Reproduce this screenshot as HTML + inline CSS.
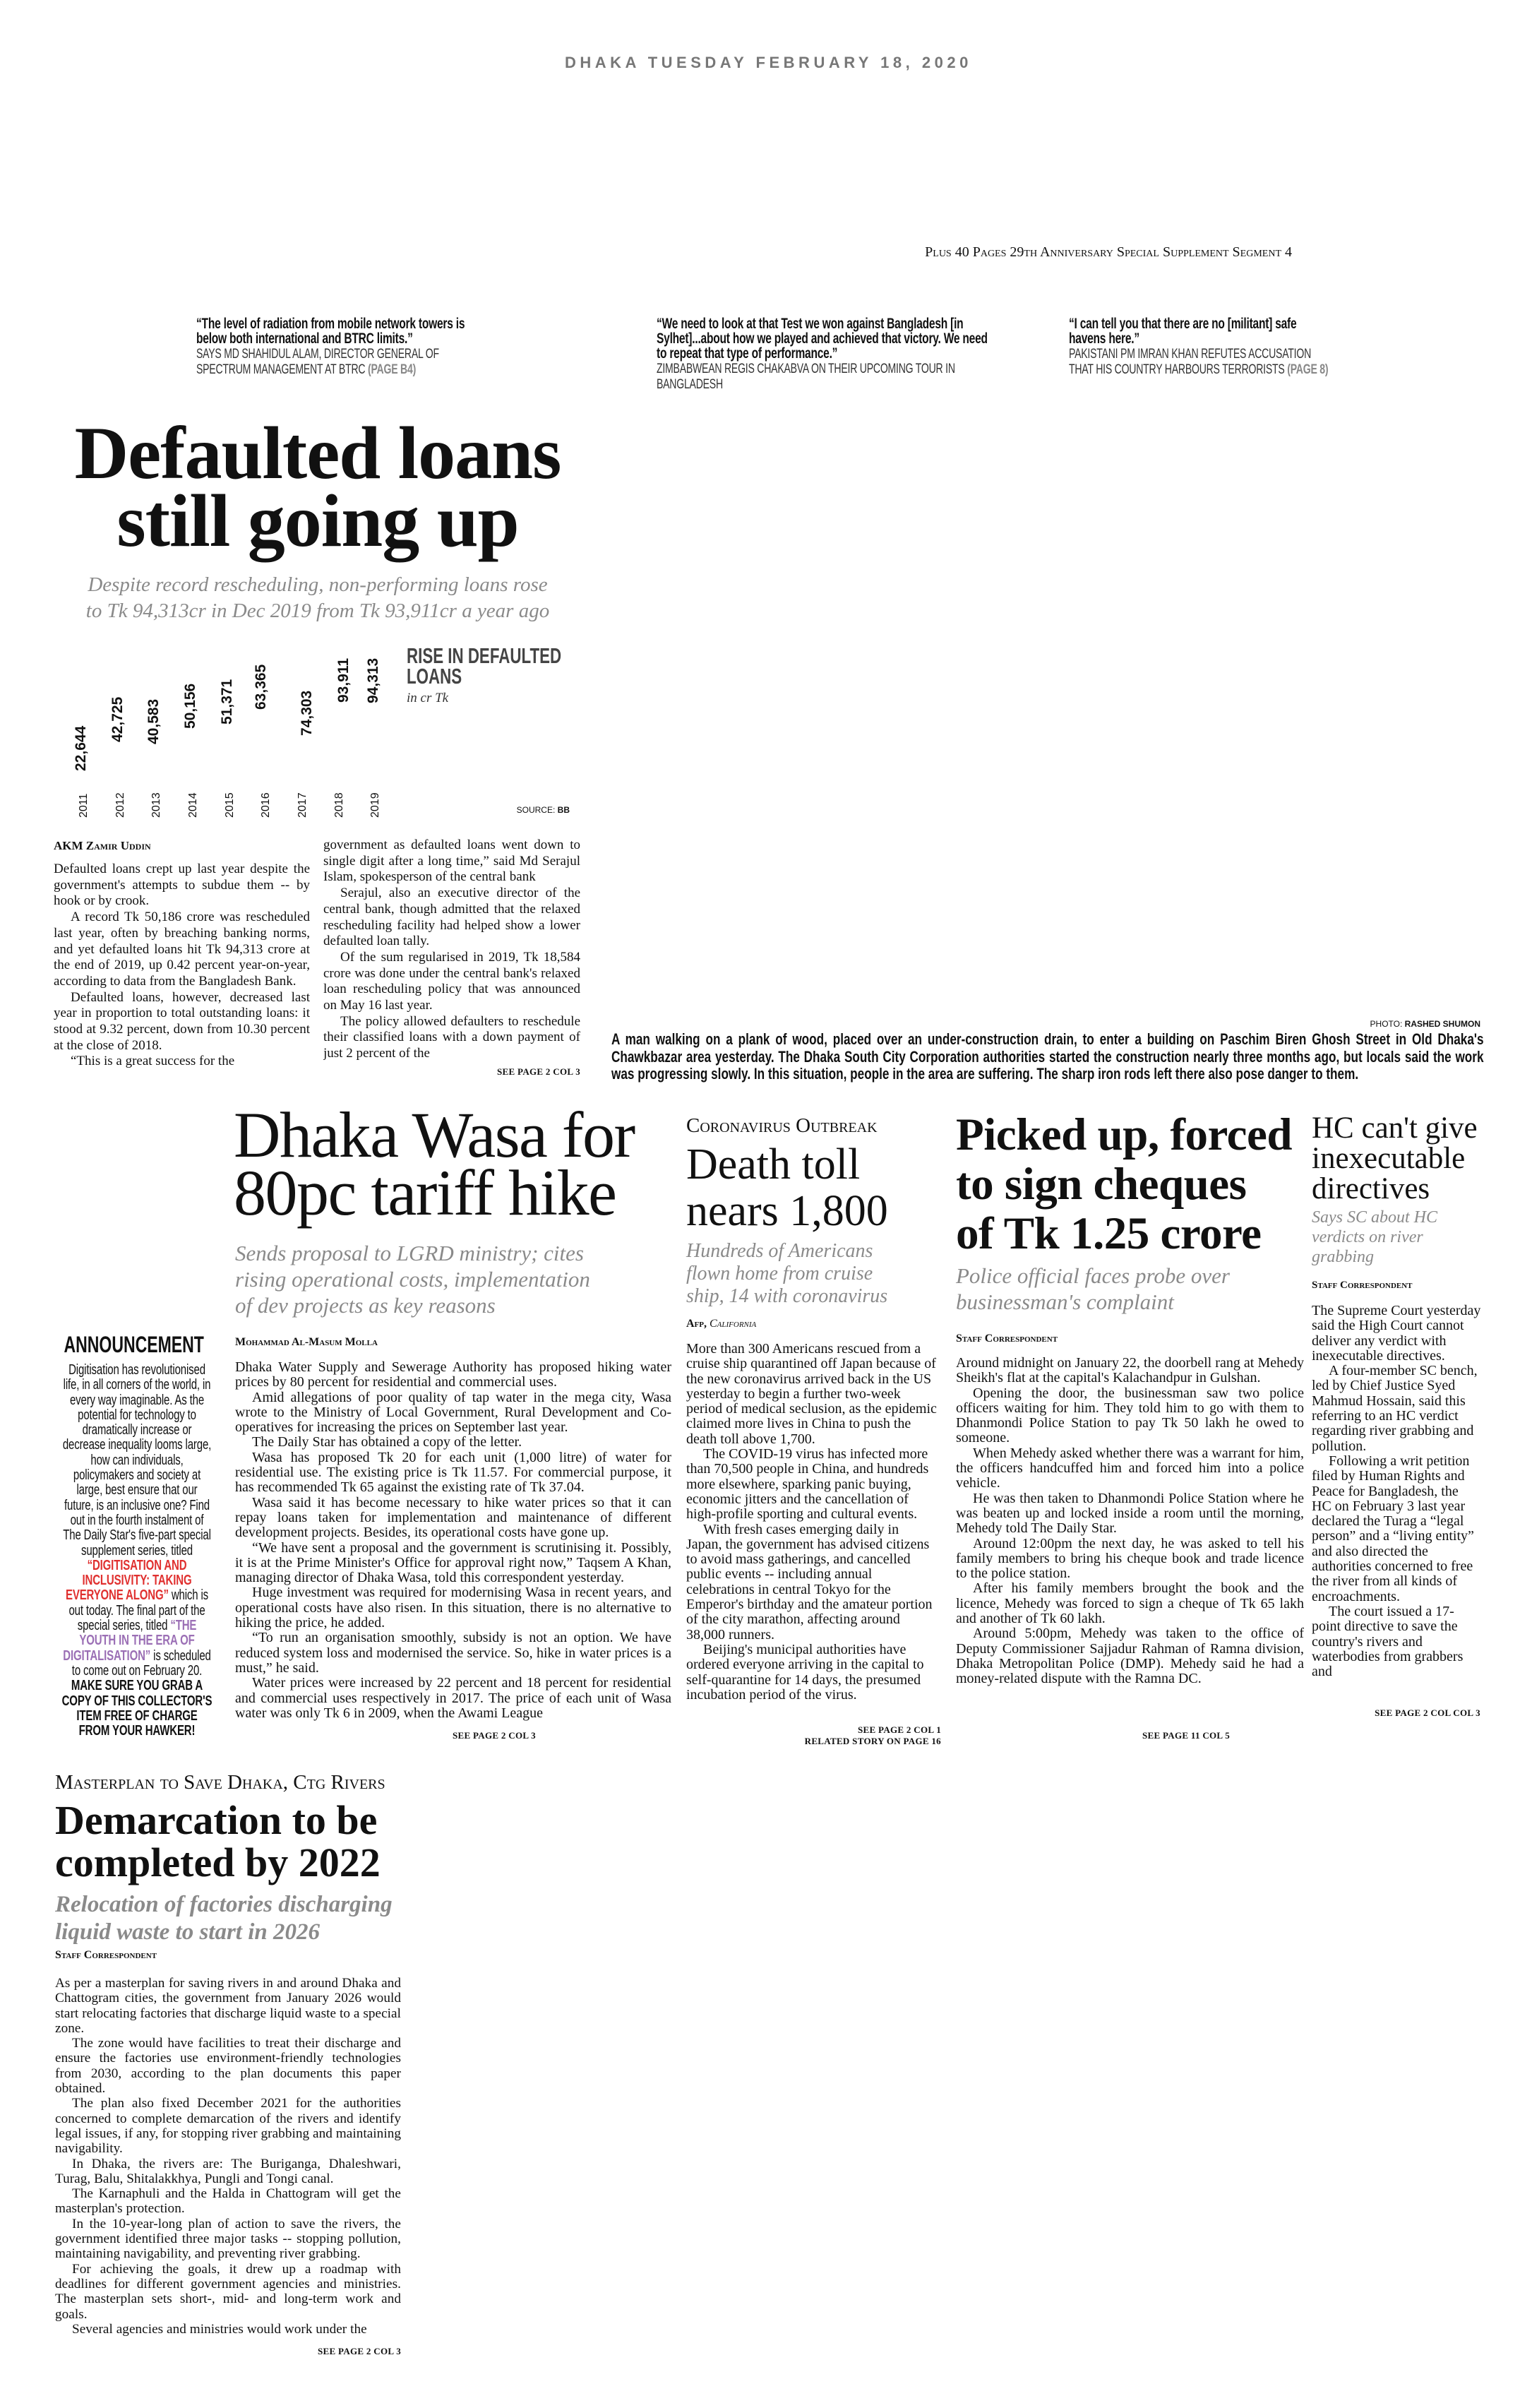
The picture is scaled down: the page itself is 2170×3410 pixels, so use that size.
<!DOCTYPE html>
<html><head><meta charset="utf-8">
<style>
*{margin:0;padding:0;box-sizing:border-box}
html,body{width:2170px;height:3410px;background:#fff;overflow:hidden}
body{position:relative;font-family:"Liberation Serif",serif;color:#111}
.a{position:absolute}
.s{transform-origin:0 0}
.n{font-family:"Liberation Sans",sans-serif}
.body{font-family:"Liberation Serif",serif;font-size:20px;line-height:21.3px;text-align:justify}
.body p{text-indent:24px}
.body p.f{text-indent:0}
.sc{font-variant:small-caps}
.sub{font-style:italic;color:#8a8a8a;white-space:nowrap}
.v{position:absolute;font-family:"Liberation Sans",sans-serif;font-weight:bold;font-size:21px;line-height:22px;white-space:nowrap;transform-origin:0 0;transform:rotate(-90deg)}
.y{position:absolute;font-family:"Liberation Sans",sans-serif;font-size:16px;line-height:18px;white-space:nowrap;transform-origin:0 0;transform:rotate(-90deg)}
.q{font-size:21px;line-height:21px;letter-spacing:-0.3px}
.q b{font-weight:bold}
.q span{color:#333;font-size:19px}
.see{font-size:13px;font-weight:bold;letter-spacing:0.3px}
</style></head><body>

<div class="a" style="left:800px;top:76px;width:573px;font-family:'Liberation Sans',sans-serif;font-weight:bold;font-size:22px;letter-spacing:5.5px;color:#777;white-space:nowrap">DHAKA TUESDAY FEBRUARY 18, 2020</div>
<div class="a sc" style="left:1300px;top:346px;width:530px;font-size:20px;text-align:right;white-space:nowrap">Plus 40 Pages 29th Anniversary Special Supplement Segment 4</div>

<div class="a n q s" style="left:278px;top:448px;width:520px;transform:scaleX(0.74)"><b>“The level of radiation from mobile network towers is below both international and BTRC limits.”</b><br><span>SAYS MD SHAHIDUL ALAM, DIRECTOR GENERAL OF SPECTRUM MANAGEMENT AT BTRC <b style="color:#888">(PAGE B4)</b></span></div>
<div class="a n q s" style="left:930px;top:448px;width:640px;transform:scaleX(0.74)"><b>“We need to look at that Test we won against Bangladesh [in Sylhet]...about how we played and achieved that victory. We need to repeat that type of performance.”</b><br><span>ZIMBABWEAN REGIS CHAKABVA ON THEIR UPCOMING TOUR IN BANGLADESH</span></div>
<div class="a n q s" style="left:1514px;top:448px;width:500px;transform:scaleX(0.74)"><b>“I can tell you that there are no [militant] safe havens here.”</b><br><span>PAKISTANI PM IMRAN KHAN REFUTES ACCUSATION THAT HIS COUNTRY HARBOURS TERRORISTS <b style="color:#888">(PAGE 8)</b></span></div>

<div class="a" style="left:30px;top:594px;width:840px;text-align:center;font-size:106px;line-height:96px;font-weight:bold;letter-spacing:-1px">Defaulted loans<br>still going up</div>
<div class="a sub" style="left:40px;top:810px;width:820px;text-align:center;font-size:29px;line-height:37px">Despite record rescheduling, non-performing loans rose<br>to Tk 94,313cr in Dec 2019 from Tk 93,911cr a year ago</div>

<div class="v" style="left:104px;top:1092px">22,644</div>
<div class="v" style="left:156px;top:1051px">42,725</div>
<div class="v" style="left:207px;top:1054px">40,583</div>
<div class="v" style="left:259px;top:1032px">50,156</div>
<div class="v" style="left:311px;top:1026px">51,371</div>
<div class="v" style="left:359px;top:1005px">63,365</div>
<div class="v" style="left:424px;top:1042px">74,303</div>
<div class="v" style="left:476px;top:995px">93,911</div>
<div class="v" style="left:518px;top:996px">94,313</div>
<div class="y" style="left:110px;top:1158px">2011</div>
<div class="y" style="left:162px;top:1158px">2012</div>
<div class="y" style="left:213px;top:1158px">2013</div>
<div class="y" style="left:265px;top:1158px">2014</div>
<div class="y" style="left:317px;top:1158px">2015</div>
<div class="y" style="left:368px;top:1158px">2016</div>
<div class="y" style="left:420px;top:1158px">2017</div>
<div class="y" style="left:472px;top:1158px">2018</div>
<div class="y" style="left:523px;top:1158px">2019</div>
<div class="a n s" style="left:576px;top:914px;width:320px;font-weight:bold;font-size:31px;line-height:29px;color:#444;transform:scaleX(0.72)">RISE IN DEFAULTED<br>LOANS</div>
<div class="a" style="left:576px;top:978px;font-style:italic;font-size:19px;color:#333">in cr Tk</div>
<div class="a" style="left:650px;top:1140px;width:157px;text-align:right;font-family:'Liberation Sans',sans-serif;font-size:12px">SOURCE: <b>BB</b></div>

<div class="a sc" style="left:76px;top:1188px;font-size:17px;font-weight:bold">AKM Zamir Uddin</div>
<div class="a body" style="left:76px;top:1220px;width:363px;height:305px;overflow:hidden;font-size:19px;line-height:22.7px">
<p class="f">Defaulted loans crept up last year despite the government's attempts to subdue them -- by hook or by crook.</p>
<p>A record Tk 50,186 crore was rescheduled last year, often by breaching banking norms, and yet defaulted loans hit Tk 94,313 crore at the end of 2019, up 0.42 percent year-on-year, according to data from the Bangladesh Bank.</p>
<p>Defaulted loans, however, decreased last year in proportion to total outstanding loans: it stood at 9.32 percent, down from 10.30 percent at the close of 2018.</p>
<p>“This is a great success for the</p></div>
<div class="a body" style="left:458px;top:1186px;width:364px;height:320px;overflow:hidden;font-size:19px;line-height:22.7px">
<p class="f">government as defaulted loans went down to single digit after a long time,” said Md Serajul Islam, spokesperson of the central bank</p>
<p>Serajul, also an executive director of the central bank, though admitted that the relaxed rescheduling facility had helped show a lower defaulted loan tally.</p>
<p>Of the sum regularised in 2019, Tk 18,584 crore was done under the central bank's relaxed loan rescheduling policy that was announced on May 16 last year.</p>
<p>The policy allowed defaulters to reschedule their classified loans with a down payment of just 2 percent of the</p></div>
<div class="a see" style="left:600px;top:1510px;width:222px;text-align:right">SEE PAGE 2 COL 3</div>

<div class="a" style="left:1700px;top:1443px;width:397px;text-align:right;font-family:'Liberation Sans',sans-serif;font-size:12px">PHOTO: <b>RASHED SHUMON</b></div>
<div class="a n s" style="left:866px;top:1460px;width:1584px;font-weight:bold;font-size:22px;line-height:24.5px;text-align:justify;transform:scaleX(0.78)">A man walking on a plank of wood, placed over an under-construction drain, to enter a building on Paschim Biren Ghosh Street in Old Dhaka's Chawkbazar area yesterday. The Dhaka South City Corporation authorities started the construction nearly three months ago, but locals said the work was progressing slowly. In this situation, people in the area are suffering. The sharp iron rods left there also pose danger to them.</div>

<!-- Announcement -->
<div class="a n s" style="left:86px;top:1886px;width:288px;text-align:center;font-weight:bold;font-size:32px;transform:scaleX(0.72)">ANNOUNCEMENT</div>
<div class="a n s" style="left:86px;top:1930px;width:288px;text-align:center;font-size:20px;line-height:21.3px;letter-spacing:-0.2px;transform:scaleX(0.75)">Digitisation has revolutionised life, in all corners of the world, in every way imaginable. As the potential for technology to dramatically increase or decrease inequality looms large, how can individuals, policymakers and society at large, best ensure that our future, is an inclusive one? Find out in the fourth instalment of The Daily Star's five-part special supplement series, titled <b style="color:#e0302f">“DIGITISATION AND INCLUSIVITY: TAKING EVERYONE ALONG”</b> which is out today. The final part of the special series, titled <b style="color:#9b6fb5">“THE YOUTH IN THE ERA OF DIGITALISATION”</b> is scheduled to come out on February 20.<br><b>MAKE SURE YOU GRAB A COPY OF THIS COLLECTOR'S ITEM FREE OF CHARGE FROM YOUR HAWKER!</b></div>

<!-- Wasa -->
<div class="a" style="left:331px;top:1566px;width:640px;font-size:92px;line-height:82px;letter-spacing:-1.5px;white-space:nowrap">Dhaka Wasa for<br>80pc tariff hike</div>
<div class="a sub" style="left:333px;top:1756px;width:600px;font-size:31px;line-height:37px">Sends proposal to LGRD ministry; cites<br>rising operational costs, implementation<br>of dev projects as key reasons</div>
<div class="a sc" style="left:333px;top:1892px;font-size:16px;font-weight:bold">Mohammad Al-Masum Molla</div>
<div class="a body" style="left:333px;top:1926px;width:618px;height:520px;overflow:hidden">
<p class="f">Dhaka Water Supply and Sewerage Authority has proposed hiking water prices by 80 percent for residential and commercial uses.</p>
<p>Amid allegations of poor quality of tap water in the mega city, Wasa wrote to the Ministry of Local Government, Rural Development and Co-operatives for increasing the prices on September last year.</p>
<p>The Daily Star has obtained a copy of the letter.</p>
<p>Wasa has proposed Tk 20 for each unit (1,000 litre) of water for residential use. The existing price is Tk 11.57. For commercial purpose, it has recommended Tk 65 against the existing rate of Tk 37.04.</p>
<p>Wasa said it has become necessary to hike water prices so that it can repay loans taken for implementation and maintenance of different development projects. Besides, its operational costs have gone up.</p>
<p>“We have sent a proposal and the government is scrutinising it. Possibly, it is at the Prime Minister's Office for approval right now,” Taqsem A Khan, managing director of Dhaka Wasa, told this correspondent yesterday.</p>
<p>Huge investment was required for modernising Wasa in recent years, and operational costs have also risen. In this situation, there is no alternative to hiking the price, he added.</p>
<p>“To run an organisation smoothly, subsidy is not an option. We have reduced system loss and modernised the service. So, hike in water prices is a must,” he said.</p>
<p>Water prices were increased by 22 percent and 18 percent for residential and commercial uses respectively in 2017. The price of each unit of Wasa water was only Tk 6 in 2009, when the Awami League</p></div>
<div class="a see" style="left:600px;top:2450px;width:200px;text-align:center">SEE PAGE 2 COL 3</div>

<!-- Corona -->
<div class="a sc" style="left:972px;top:1578px;font-size:29px;white-space:nowrap">Coronavirus Outbreak</div>
<div class="a" style="left:972px;top:1616px;width:360px;font-size:62px;line-height:66px;white-space:nowrap">Death toll<br>nears 1,800</div>
<div class="a sub" style="left:972px;top:1756px;width:360px;font-size:28px;line-height:32px">Hundreds of Americans<br>flown home from cruise<br>ship, 14 with coronavirus</div>
<div class="a sc" style="left:972px;top:1866px;font-size:16px;font-weight:bold">Afp, <i style="font-weight:normal">California</i></div>
<div class="a body" style="left:972px;top:1900px;width:356px;height:540px;overflow:hidden;text-align:left">
<p class="f">More than 300 Americans rescued from a cruise ship quarantined off Japan because of the new coronavirus arrived back in the US yesterday to begin a further two-week period of medical seclusion, as the epidemic claimed more lives in China to push the death toll above 1,700.</p>
<p>The COVID-19 virus has infected more than 70,500 people in China, and hundreds more elsewhere, sparking panic buying, economic jitters and the cancellation of high-profile sporting and cultural events.</p>
<p>With fresh cases emerging daily in Japan, the government has advised citizens to avoid mass gatherings, and cancelled public events -- including annual celebrations in central Tokyo for the Emperor's birthday and the amateur portion of the city marathon, affecting around 38,000 runners.</p>
<p>Beijing's municipal authorities have ordered everyone arriving in the capital to self-quarantine for 14 days, the presumed incubation period of the virus.</p></div>
<div class="a see" style="left:1100px;top:2442px;width:233px;text-align:right">SEE PAGE 2 COL 1<br>RELATED STORY ON PAGE 16</div>

<!-- Picked up -->
<div class="a" style="left:1354px;top:1572px;width:500px;font-size:65px;line-height:70px;font-weight:bold;letter-spacing:-0.5px;white-space:nowrap">Picked up, forced<br>to sign cheques<br>of Tk 1.25 crore</div>
<div class="a sub" style="left:1354px;top:1788px;width:500px;font-size:31px;line-height:37px">Police official faces probe over<br>businessman's complaint</div>
<div class="a sc" style="left:1354px;top:1887px;font-size:16px;font-weight:bold">Staff Correspondent</div>
<div class="a body" style="left:1354px;top:1920px;width:493px;height:525px;overflow:hidden">
<p class="f">Around midnight on January 22, the doorbell rang at Mehedy Sheikh's flat at the capital's Kalachandpur in Gulshan.</p>
<p>Opening the door, the businessman saw two police officers waiting for him. They told him to go with them to Dhanmondi Police Station to pay Tk 50 lakh he owed to someone.</p>
<p>When Mehedy asked whether there was a warrant for him, the officers handcuffed him and forced him into a police vehicle.</p>
<p>He was then taken to Dhanmondi Police Station where he was beaten up and locked inside a room until the morning, Mehedy told The Daily Star.</p>
<p>Around 12:00pm the next day, he was asked to tell his family members to bring his cheque book and trade licence to the police station.</p>
<p>After his family members brought the book and the licence, Mehedy was forced to sign a cheque of Tk 65 lakh and another of Tk 60 lakh.</p>
<p>Around 5:00pm, Mehedy was taken to the office of Deputy Commissioner Sajjadur Rahman of Ramna division, Dhaka Metropolitan Police (DMP). Mehedy said he had a money-related dispute with the Ramna DC.</p></div>
<div class="a see" style="left:1580px;top:2450px;width:200px;text-align:center">SEE PAGE 11 COL 5</div>

<!-- HC -->
<div class="a" style="left:1858px;top:1576px;width:250px;font-size:43px;line-height:43px">HC can't give inexecutable directives</div>
<div class="a sub" style="left:1858px;top:1710px;width:240px;font-size:24px;line-height:28px">Says SC about HC<br>verdicts on river<br>grabbing</div>
<div class="a sc" style="left:1858px;top:1812px;font-size:15px;font-weight:bold">Staff Correspondent</div>
<div class="a body" style="left:1858px;top:1846px;width:240px;height:575px;overflow:hidden;text-align:left">
<p class="f">The Supreme Court yesterday said the High Court cannot deliver any verdict with inexecutable directives.</p>
<p>A four-member SC bench, led by Chief Justice Syed Mahmud Hossain, said this referring to an HC verdict regarding river grabbing and pollution.</p>
<p>Following a writ petition filed by Human Rights and Peace for Bangladesh, the HC on February 3 last year declared the Turag a “legal person” and a “living entity” and also directed the authorities concerned to free the river from all kinds of encroachments.</p>
<p>The court issued a 17-point directive to save the country's rivers and waterbodies from grabbers and</p></div>
<div class="a see" style="left:1900px;top:2418px;width:197px;text-align:right">SEE PAGE 2 COL COL 3</div>

<!-- Demarcation -->
<div class="a sc" style="left:78px;top:2508px;font-size:29px;white-space:nowrap">Masterplan to Save Dhaka, Ctg Rivers</div>
<div class="a" style="left:78px;top:2548px;width:500px;font-size:58px;line-height:60px;font-weight:bold;white-space:nowrap">Demarcation to be<br>completed by 2022</div>
<div class="a sub" style="left:78px;top:2678px;width:500px;font-size:33px;line-height:39px;font-weight:bold">Relocation of factories discharging<br>liquid waste to start in 2026</div>
<div class="a sc" style="left:78px;top:2760px;font-size:16px;font-weight:bold">Staff Correspondent</div>
<div class="a body" style="left:78px;top:2798px;width:490px;height:520px;overflow:hidden;font-size:19.2px;letter-spacing:0.05px">
<p class="f">As per a masterplan for saving rivers in and around Dhaka and Chattogram cities, the government from January 2026 would start relocating factories that discharge liquid waste to a special zone.</p>
<p>The zone would have facilities to treat their discharge and ensure the factories use environment-friendly technologies from 2030, according to the plan documents this paper obtained.</p>
<p>The plan also fixed December 2021 for the authorities concerned to complete demarcation of the rivers and identify legal issues, if any, for stopping river grabbing and maintaining navigability.</p>
<p>In Dhaka, the rivers are: The Buriganga, Dhaleshwari, Turag, Balu, Shitalakkhya, Pungli and Tongi canal.</p>
<p>The Karnaphuli and the Halda in Chattogram will get the masterplan's protection.</p>
<p>In the 10-year-long plan of action to save the rivers, the government identified three major tasks -- stopping pollution, maintaining navigability, and preventing river grabbing.</p>
<p>For achieving the goals, it drew up a roadmap with deadlines for different government agencies and ministries. The masterplan sets short-, mid- and long-term work and goals.</p>
<p>Several agencies and ministries would work under the</p></div>
<div class="a see" style="left:368px;top:3322px;width:200px;text-align:right">SEE PAGE 2 COL 3</div>

</body></html>
